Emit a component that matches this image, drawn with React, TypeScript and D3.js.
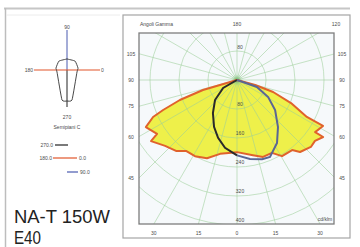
import * as d3 from 'd3';

// C-gamma polar data (gamma in degrees from nadir, intensity in cd/klm)
const c0Gamma = [0, 12, 18.7, 25.6, 30.6, 38.2, 41.2, 47.8, 52, 56.5, 56.3, 61.9, 62.1, 66.9, 71.6, 74.5, 90];
const c0Cd = [199, 212, 224, 223, 244, 246, 264, 275, 273, 285, 259, 269, 218, 162, 105, 52, 0];
const c180Gamma = [0, 12.9, 21, 28.9, 35.7, 40.7, 47.5, 54.6, 56, 62.7, 66.2, 67.9, 70.7, 73.6, 73.6, 90];
const c180Cd = [199, 209, 231, 240, 241, 258, 269, 291, 266, 283, 253, 220, 167, 98, 49, 0];
const c90Gamma = [0, 9.3, 17.6, 23.2, 32.4, 41.1, 51.7, 61.3, 70.7, 71.6, 90];
const c90Cd = [208, 221, 229, 231, 206, 172, 134, 98, 58, 17, 0];
const c270Gamma = [0, 10, 18.1, 26.1, 36, 47.7, 60.3, 90];
const c270Cd = [208, 190, 168, 144, 113, 82, 44, 0];

const cdGrid = [80, 160, 240, 320, 400, 480];
const cdLabels = [80, 160, 240, 320, 400];
const sideTicks = [105, 90, 75, 60, 45];
const bottomTicks = [-30, -15, 0, 15, 30];

// small luminaire symbol (right half, mirrored)
const miniGamma = [0, 9.5, 78.7, 100, 138, 180];
const miniR = [31, 30.4, 10.2, 11.2, 12, 11];

const W = 360;
const H = 247;
const cx = 237;
const cy = 80;
const box = { x0: 139, x1: 334, y0: 33, y1: 224 };
const rad = Math.PI / 180;

const r = d3.scaleLinear().domain([0, 80]).range([0, 29]);

const font = '"Liberation Sans", Arial, sans-serif';
const small = { fontSize: 5, fill: '#4a4a4a', fontFamily: font };

type Pt = [number, number];

function half(gam: number[], cd: number[], side: 1 | -1): Pt[] {
  return gam.map((g, i) => [side > 0 ? Math.PI - g * rad : Math.PI + g * rad, r(cd[i])]);
}

export default function App() {
  const radial = d3
    .lineRadial<Pt>()
    .angle((d) => d[0])
    .radius((d) => d[1]);

  const right = half(c0Gamma, c0Cd, 1);
  const left = half(c180Gamma, c180Cd, -1).reverse();
  const orangePath = radial.curve(d3.curveLinearClosed)([...right, ...left]) ?? '';
  const openLine = d3
    .lineRadial<Pt>()
    .angle((d) => d[0])
    .radius((d) => d[1]);
  const bluePath = openLine(half(c90Gamma, c90Cd, 1)) ?? '';
  const blackPath = openLine(half(c270Gamma, c270Cd, -1)) ?? '';

  const miniPts: Pt[] = [
    ...miniGamma.map((g, i) => [Math.PI - g * rad, miniR[i]] as Pt),
    ...miniGamma
      .slice()
      .reverse()
      .map((g, i) => [Math.PI + g * rad, miniR[miniR.length - 1 - i]] as Pt),
  ];
  const miniPath =
    d3
      .lineRadial<Pt>()
      .angle((d) => d[0])
      .radius((d) => d[1])
      .curve(d3.curveCardinalClosed.tension(0.6))(miniPts) ?? '';

  const spokes = d3.range(0, 360, 15);

  return (
    <svg width={W} height={H} style={{ position: 'absolute', left: 0, top: 0, background: '#fff' }}>
      <defs>
        <clipPath id="plotClip">
          <rect x={box.x0} y={box.y0} width={box.x1 - box.x0} height={box.y1 - box.y0} />
        </clipPath>
        <radialGradient id="glow">
          <stop offset="0%" stopColor="#5fb35a" stopOpacity={0.9} />
          <stop offset="100%" stopColor="#9fd39a" stopOpacity={0} />
        </radialGradient>
      </defs>

      {/* page frames */}
      <line x1={4} x2={350} y1={8.5} y2={8.5} stroke="#c6c6c6" strokeWidth={2} />
      <line x1={5.5} x2={5.5} y1={8} y2={H} stroke="#bdbdbd" strokeWidth={1.5} />
      <line x1={6} x2={120} y1={15} y2={15} stroke="#ececec" strokeWidth={1} />
      <rect x={123} y={15} width={227} height={223} fill="#fff" stroke="#a5a5a5" strokeWidth={1.2} />

      {/* plot area */}
      <rect x={box.x0} y={box.y0} width={box.x1 - box.x0} height={box.y1 - box.y0} fill="#f6f9fb" />
      <g clipPath="url(#plotClip)">
        <path d={orangePath} transform={`translate(${cx},${cy})`} fill="#eef04a" />
        {cdGrid.map((c) => (
          <circle key={c} cx={cx} cy={cy} r={r(c)} fill="none" stroke="#9ccf98" strokeOpacity={0.7} strokeWidth={0.8} />
        ))}
        {spokes.map((a) => (
          <line
            key={a}
            x1={cx}
            y1={cy}
            x2={cx + 320 * Math.sin(a * rad)}
            y2={cy + 320 * Math.cos(a * rad)}
            stroke="#9ccf98"
            strokeOpacity={0.7}
            strokeWidth={0.8}
          />
        ))}
        <circle cx={cx} cy={cy} r={6} fill="url(#glow)" />
        <path
          d={orangePath}
          transform={`translate(${cx},${cy})`}
          fill="none"
          stroke="#e0622c"
          strokeWidth={2}
          strokeLinejoin="round"
        />
        <path d={blackPath} transform={`translate(${cx},${cy})`} fill="none" stroke="#2a2a2a" strokeWidth={2} />
        <path d={bluePath} transform={`translate(${cx},${cy})`} fill="none" stroke="#5a6694" strokeWidth={2} />
      </g>
      <rect
        x={box.x0}
        y={box.y0}
        width={box.x1 - box.x0}
        height={box.y1 - box.y0}
        fill="none"
        stroke="#7d7d7d"
        strokeWidth={1.3}
      />

      {/* intensity labels */}
      <text x={cx + 3} y={cy - r(cdLabels[0]) - 4} textAnchor="middle" dominantBaseline="central" style={small}>
        {cdLabels[0]}
      </text>
      {cdLabels.map((c) => (
        <text key={c} x={cx + 3} y={cy + r(c) - 5} textAnchor="middle" dominantBaseline="central" style={small}>
          {c}
        </text>
      ))}
      <text x={325} y={box.y1 - 5} textAnchor="middle" dominantBaseline="central" style={small}>
        cd/klm
      </text>

      {/* gamma labels */}
      {sideTicks.map((g) => {
        const y = cy + (cx - box.x0) / Math.tan(g * rad);
        return (
          <g key={g}>
            <text x={box.x0 - 8} y={y} textAnchor="middle" dominantBaseline="central" style={small}>
              {g}
            </text>
            <text x={box.x1 + 8} y={y} textAnchor="middle" dominantBaseline="central" style={small}>
              {g}
            </text>
          </g>
        );
      })}
      {bottomTicks.map((g) => (
        <text
          key={g}
          x={cx + (box.y1 - cy) * Math.tan(g * rad)}
          y={box.y1 + 9}
          textAnchor="middle"
          dominantBaseline="central"
          style={small}
        >
          {Math.abs(g)}
        </text>
      ))}
      <text x={140} y={24} dominantBaseline="central" style={small}>
        Angoli Gamma
      </text>
      <text x={cx} y={24} textAnchor="middle" dominantBaseline="central" style={small}>
        180
      </text>
      <text x={336} y={24} textAnchor="middle" dominantBaseline="central" style={small}>
        120
      </text>

      {/* mini C-planes diagram */}
      <line x1={67} x2={67} y1={30} y2={70} stroke="#4a5bb0" strokeWidth={1} />
      <line x1={67} x2={67} y1={70} y2={107} stroke="#222" strokeWidth={1} />
      <line x1={34} x2={100} y1={70} y2={70} stroke="#e2552a" strokeWidth={1.2} />
      <path d={miniPath} transform="translate(67,70)" fill="none" stroke="#333" strokeWidth={0.9} />
      <text x={67} y={27} textAnchor="middle" dominantBaseline="central" style={small}>
        90
      </text>
      <text x={67} y={117} textAnchor="middle" dominantBaseline="central" style={small}>
        270
      </text>
      <text x={33} y={70} textAnchor="end" dominantBaseline="central" style={small}>
        180
      </text>
      <text x={101} y={70} dominantBaseline="central" style={small}>
        0
      </text>
      <text x={67} y={127} textAnchor="middle" dominantBaseline="central" style={small}>
        Semipiani C
      </text>

      {/* legend */}
      <text x={53} y={145} textAnchor="end" dominantBaseline="central" style={small}>
        270.0
      </text>
      <line x1={55} x2={68} y1={145} y2={145} stroke="#222" strokeWidth={1.2} />
      <text x={52} y={158} textAnchor="end" dominantBaseline="central" style={small}>
        180.0
      </text>
      <line x1={53} x2={77} y1={158} y2={158} stroke="#e2552a" strokeWidth={1.2} />
      <text x={79} y={158} dominantBaseline="central" style={small}>
        0.0
      </text>
      <line x1={67} x2={78} y1={172} y2={172} stroke="#4a5bb0" strokeWidth={1.2} />
      <text x={80} y={172} dominantBaseline="central" style={small}>
        90.0
      </text>

      <text
        x={14}
        y={223}
        textLength={96}
        lengthAdjust="spacingAndGlyphs"
        style={{ fontSize: 18, fill: '#222', fontFamily: font }}
      >
        NA-T 150W
      </text>
      <text
        x={14}
        y={244}
        textLength={27}
        lengthAdjust="spacingAndGlyphs"
        style={{ fontSize: 18, fill: '#222', fontFamily: font }}
      >
        E40
      </text>
    </svg>
  );
}
